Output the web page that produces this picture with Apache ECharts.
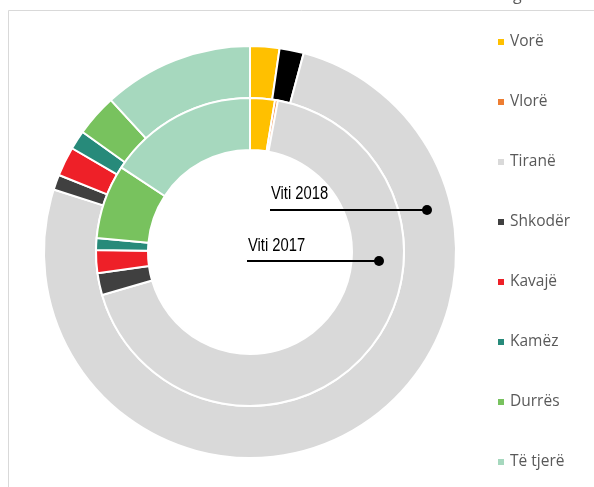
<!DOCTYPE html>
<html>
<head>
<meta charset="utf-8">
<script src="https://cdn.jsdelivr.net/npm/echarts@6/dist/echarts.min.js"></script>
<style>
  html, body { margin: 0; padding: 0; background: #fff; }
  #chart { width: 594px; height: 487px; }
</style>
</head>
<body>
<div id="chart"></div>
<script>
// qytetet (rendi i legjendes)
var cities = ['Vorë', 'Vlorë', 'Tiranë', 'Shkodër', 'Kavajë', 'Kamëz', 'Durrës', 'Të tjerë']
var colors = ['#FFC000', '#ED7D31', '#D9D9D9', '#404040', '#EE2028', '#278A7A', '#78C25E', '#A6D8BE']
// perqindje te lexuara nga grafiku
var values2017 = [2.6, 0.3, 67.6, 2.3, 2.4, 1.25, 7.8, 15.75]
var values2018 = [2.3, 1.9, 75.7, 1.2, 2.3, 1.5, 3.3, 11.8]

var dom = document.getElementById('chart')
var myChart = echarts.init(dom, null, { renderer: 'canvas' })

function buildData (vals, year) {
  return cities.map(function (name, i) {
    var item = { name: name, value: vals[i], itemStyle: { color: colors[i] } }
    // ne 2018 segmenti i Vlores eshte ngjyrosur me te zeze
    if (year === 2018 && name === 'Vlorë') {
      item.itemStyle.color = '#000000'
    }
    return item
  })
}

// shkronje e ngushte: Liberation Sans e shtypur horizontalisht
var noteFont = '18px "Liberation Sans", Arial, sans-serif'

var option = {
  animation: false,
  backgroundColor: '#fff',
  legend: {
    orient: 'vertical',
    left: 491,
    top: 29,
    itemGap: 44,
    itemWidth: 8,
    itemHeight: 8,
    icon: 'rect',
    selectedMode: false,
    data: cities.map(function (c, i) { return { name: c, itemStyle: { color: colors[i] } } }),
    textStyle: {
      color: '#595959',
      fontSize: 15.5,
      lineHeight: 16,
      fontFamily: 'Open Sans'
    }
  },
  graphic: [
    {
      type: 'rect',
      shape: { x: 8.5, y: 10.5, width: 700, height: 600 },
      style: { fill: 'none', stroke: '#D9D9D9', lineWidth: 1 },
      silent: true
    },
    {
      type: 'text',
      left: 513,
      top: -13,
      style: { text: 'g', fill: '#595959', font: '16px "Open Sans"' }
    },
    // Viti 2018
    {
      type: 'text',
      z: 100,
      x: 271,
      y: 194,
      scaleX: 0.82,
      style: { text: 'Viti 2018', fill: '#000', font: noteFont, verticalAlign: 'middle', textVerticalAlign: 'middle' }
    },
    {
      type: 'line',
      z: 100,
      shape: { x1: 270, y1: 210, x2: 427, y2: 210 },
      style: { stroke: '#000', lineWidth: 2 }
    },
    {
      type: 'circle',
      z: 100,
      shape: { cx: 427, cy: 210, r: 5 },
      style: { fill: '#000' }
    },
    // Viti 2017
    {
      type: 'text',
      z: 100,
      x: 248,
      y: 246,
      scaleX: 0.82,
      style: { text: 'Viti 2017', fill: '#000', font: noteFont, verticalAlign: 'middle', textVerticalAlign: 'middle' }
    },
    {
      type: 'line',
      z: 100,
      shape: { x1: 247, y1: 261, x2: 379, y2: 261 },
      style: { stroke: '#000', lineWidth: 2 }
    },
    {
      type: 'circle',
      z: 100,
      shape: { cx: 379, cy: 261, r: 5 },
      style: { fill: '#000' }
    }
  ],
  series: [
    {
      name: 'Viti 2018',
      type: 'pie',
      center: [250, 252],
      radius: [154, 206],
      startAngle: 90,
      clockwise: true,
      silent: true,
      label: { show: false },
      labelLine: { show: false },
      itemStyle: { borderColor: '#fff', borderWidth: 2 },
      data: buildData(values2018, 2018)
    },
    {
      name: 'Viti 2017',
      type: 'pie',
      center: [250, 252],
      radius: [102, 154],
      startAngle: 90,
      clockwise: true,
      silent: true,
      label: { show: false },
      labelLine: { show: false },
      itemStyle: { borderColor: '#fff', borderWidth: 2 },
      data: buildData(values2017, 2017)
    }
  ]
}

if (option && typeof option === 'object') {
  myChart.setOption(option, true)
}
</script>
</body>
</html>
